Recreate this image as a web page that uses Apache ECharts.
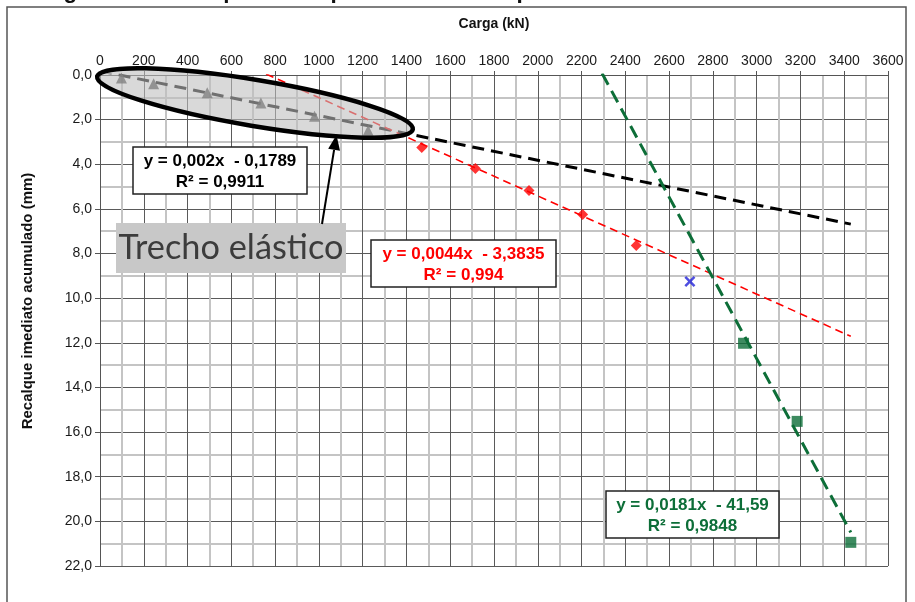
<!DOCTYPE html>
<html>
<head>
<meta charset="utf-8">
<script src="https://cdn.jsdelivr.net/npm/echarts@6/dist/echarts.min.js"></script>
<style>
  html, body { margin: 0; padding: 0; background: #ffffff; }
  #chart { width: 915px; height: 602px; }
</style>
</head>
<body>
<div id="chart"></div>
<script>
// Load (kN) and accumulated immediate settlement (mm) for each loading stage
const elasticLoad = [98, 245, 490, 735, 980, 1225];
const elasticSettle = [0.13, 0.39, 0.80, 1.25, 1.85, 2.49];
const plasticLoad = [1470, 1715, 1960, 2205, 2450];
const plasticSettle = [3.25, 4.19, 5.17, 6.25, 7.64];
const outlierLoad = [2695];
const outlierSettle = [9.25];
const ruptureLoad = [2940, 3185, 3430];
const ruptureSettle = [12.02, 15.52, 20.94];

// Linear fits: [slope, intercept, R²]
const elasticFit = [0.002, -0.1789, 0.9911];
const plasticFit = [0.0044, -3.3835, 0.994];
const ruptureFit = [0.0181, -41.59, 0.9848];
// Load span drawn for each fit line
const elasticRange = [0, 3430];
const plasticRange = [0, 3430];
const ruptureRange = [2250, 3430];

// Axis scales
const loadAxis = [0, 3600, 200];
const settleAxis = [0, 22, 2];

const titleText = 'Figura 5 – Recalque correspondente ao comportamento elástico da estaca';
const noteText = 'Trecho elástico';

const GREEN = '#0d6e38';
const RED = '#ff0000';

const comma = n => String(n).replace('.', ',');
const equation = f => 'y = ' + comma(f[0]) + 'x  ' + (f[1] < 0 ? '- ' : '+ ') + comma(Math.abs(f[1]));
const r2 = f => 'R² = ' + comma(f[2]);
const pairs = (xs, ys) => xs.map((x, i) => [x, ys[i]]);
const fitLine = (f, r) => r.map(x => [x, f[0] * x + f[1]]);

function fitFont(font, size, text, width) {
  const ctx = document.createElement('canvas').getContext('2d');
  ctx.font = font.replace('{s}', size + 'px');
  const w = ctx.measureText(text).width;
  return size * width / w;
}

const chart = echarts.init(document.getElementById('chart'), null, { renderer: 'canvas' });

const gridLeft = 100, gridTop = 75, gridRight = 888, gridBottom = 566;
const EQ_FONT = 'bold 17px "Liberation Sans", Arial';

function eqBox(x, y, w, h, f, color) {
  return [
    { type: 'rect', z: 20, shape: { x: x, y: y, width: w, height: h },
      style: { fill: '#ffffff', stroke: '#222', lineWidth: 1.5 } },
    { type: 'text', z: 21, x: x + w / 2, y: y + 14,
      style: { text: equation(f), fill: color, font: EQ_FONT, align: 'center', verticalAlign: 'middle' } },
    { type: 'text', z: 21, x: x + w / 2, y: y + 35,
      style: { text: r2(f), fill: color, font: EQ_FONT, align: 'center', verticalAlign: 'middle' } }
  ];
}

const noteSize = fitFont('{s} Lato', 32, noteText, 225);
const titleSize = fitFont('bold {s} "Liberation Sans", Arial', 18, titleText, 795);

// arrow from the note up to the highlighted region
const arrowFrom = [322, 224], arrowTip = [336.5, 135];
const dx = arrowTip[0] - arrowFrom[0], dy = arrowTip[1] - arrowFrom[1];
const len = Math.hypot(dx, dy), ux = dx / len, uy = dy / len;
const headLen = 15, headHalf = 6;
const hb = [arrowTip[0] - ux * headLen, arrowTip[1] - uy * headLen];

const option = {
  animation: false,
  backgroundColor: '#ffffff',
  textStyle: { fontFamily: '"Liberation Sans", Arial, sans-serif' },
  grid: { left: gridLeft, top: gridTop, right: 915 - gridRight, bottom: 602 - gridBottom, containLabel: false },
  xAxis: {
    type: 'value', position: 'top',
    min: loadAxis[0], max: loadAxis[1], interval: loadAxis[2],
    axisLine: { show: true, onZero: false, lineStyle: { color: '#555', width: 1 } },
    axisTick: { show: true, inside: false, length: 4, lineStyle: { color: '#555' } },
    axisLabel: { color: '#1a1a1a', fontSize: 14, margin: 7, formatter: v => String(v) },
    splitLine: { show: true, lineStyle: { color: '#5a5a5a', width: 1 } },
    minorTick: { show: false, splitNumber: 2 },
    minorSplitLine: { show: true, lineStyle: { color: '#c4c4c4', width: 2 } }
  },
  yAxis: {
    type: 'value', inverse: true,
    min: settleAxis[0], max: settleAxis[1], interval: settleAxis[2],
    axisLine: { show: true, onZero: false, lineStyle: { color: '#555', width: 1 } },
    axisTick: { show: true, inside: false, length: 5, lineStyle: { color: '#555' } },
    axisLabel: { color: '#1a1a1a', fontSize: 14, margin: 8, formatter: v => v.toFixed(1).replace('.', ',') },
    splitLine: { show: true, lineStyle: { color: '#5a5a5a', width: 1 } },
    minorTick: { show: false, splitNumber: 2 },
    minorSplitLine: { show: true, lineStyle: { color: '#c4c4c4', width: 2 } }
  },
  series: [
    { type: 'line', data: fitLine(elasticFit, elasticRange), symbol: 'none', z: 3,
      lineStyle: { color: '#000', width: 3, type: [12, 7] } },
    { type: 'line', data: fitLine(plasticFit, plasticRange), symbol: 'none', z: 3,
      lineStyle: { color: RED, width: 1.6, type: [8, 5] } },
    { type: 'line', data: fitLine(ruptureFit, ruptureRange), symbol: 'none', z: 3,
      lineStyle: { color: GREEN, width: 3, type: [13, 7] } },
    { type: 'scatter', data: pairs(elasticLoad, elasticSettle), symbol: 'triangle', symbolSize: 11, z: 4,
      itemStyle: { color: '#2a2a2a' } },
    { type: 'scatter', data: pairs(plasticLoad, plasticSettle), symbol: 'diamond', symbolSize: 11, z: 4,
      itemStyle: { color: RED } },
    { type: 'scatter', data: pairs(outlierLoad, outlierSettle), z: 4,
      symbol: 'path://M0,1.6L1.6,0L5,3.4L8.4,0L10,1.6L6.6,5L10,8.4L8.4,10L5,6.6L1.6,10L0,8.4L3.4,5Z',
      symbolSize: 11, itemStyle: { color: '#2020d8' } },
    { type: 'scatter', data: pairs(ruptureLoad, ruptureSettle), symbol: 'rect', symbolSize: 11, z: 4,
      itemStyle: { color: GREEN } }
  ],
  graphic: [
    // outer frame
    { type: 'rect', z: 1, shape: { x: 7, y: 7, width: 899, height: 640 },
      style: { fill: 'none', stroke: '#555', lineWidth: 1.5 } },
    // figure caption, mostly above the page edge
    { type: 'text', z: 30, x: 441, y: 3,
      style: { text: titleText, font: 'bold ' + titleSize.toFixed(2) + 'px "Liberation Sans", Arial', fill: '#111', align: 'center', verticalAlign: 'bottom' } },
    // axis titles
    { type: 'text', z: 30, x: 494, y: 24,
      style: { text: 'Carga (kN)', font: 'bold 14px "Liberation Sans", Arial', fill: '#111', align: 'center', verticalAlign: 'middle' } },
    { type: 'text', z: 30, x: 28, y: 301, rotation: Math.PI / 2,
      style: { text: 'Recalque imediato acumulado (mm)', font: 'bold 15px "Liberation Sans", Arial', fill: '#111', align: 'center', verticalAlign: 'middle' } },
    // highlighted elastic region
    { type: 'ellipse', z: 15, x: 255, y: 103, rotation: -0.165,
      shape: { cx: 0, cy: 0, rx: 160, ry: 23 },
      style: { fill: 'rgba(190,190,190,0.59)', stroke: '#000', lineWidth: 4.5 } },
    // note label with arrow
    { type: 'rect', z: 20, shape: { x: 116, y: 223, width: 230, height: 50 },
      style: { fill: '#c8c8c8', stroke: 'none' } },
    { type: 'text', z: 21, x: 231, y: 248,
      style: { text: noteText, font: noteSize.toFixed(2) + 'px Lato', fill: '#3c3c3c', align: 'center', verticalAlign: 'middle' } },
    { type: 'line', z: 22, shape: { x1: arrowFrom[0], y1: arrowFrom[1], x2: hb[0], y2: hb[1] },
      style: { stroke: '#000', lineWidth: 2 } },
    { type: 'polygon', z: 22,
      shape: { points: [arrowTip, [hb[0] - uy * headHalf, hb[1] + ux * headHalf], [hb[0] + uy * headHalf, hb[1] - ux * headHalf]] },
      style: { fill: '#000' } }
  ]
    .concat(eqBox(133, 147, 174, 47, elasticFit, '#000'))
    .concat(eqBox(371, 240, 185, 47, plasticFit, RED))
    .concat(eqBox(606, 491, 173, 47, ruptureFit, GREEN))
};

chart.setOption(option);
</script>
</body>
</html>
